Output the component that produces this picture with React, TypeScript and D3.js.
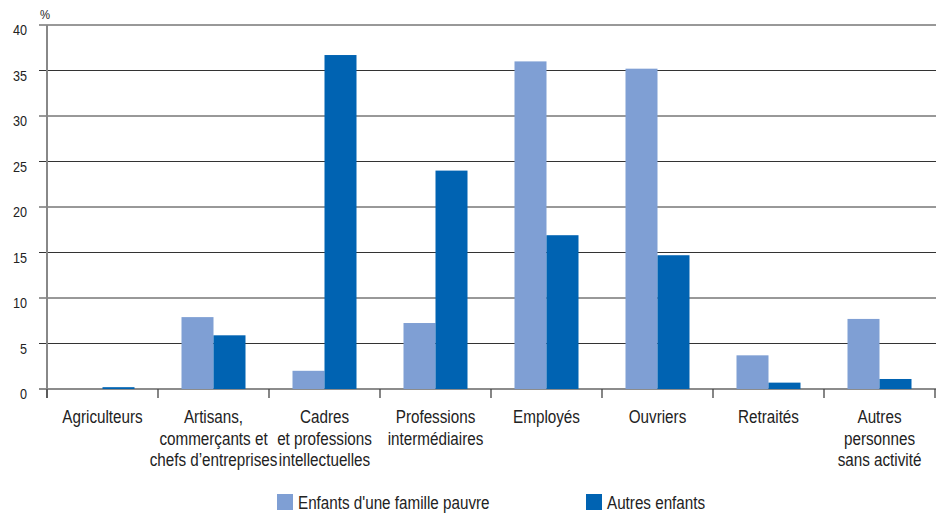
import React from "react";
import * as d3 from "d3";

const categories = [
  ["Agriculteurs"],
  ["Artisans,", "commerçants et", "chefs d\u2019entreprises"],
  ["Cadres", "et professions", "intellectuelles"],
  ["Professions", "intermédiaires"],
  ["Employés"],
  ["Ouvriers"],
  ["Retraités"],
  ["Autres", "personnes", "sans activité"],
];
const pauvres = [0, 7.9, 2.0, 7.25, 36.0, 35.2, 3.7, 7.7];
const autres = [0.2, 5.9, 36.7, 24.0, 16.9, 14.7, 0.7, 1.1];
const yTicks = [0, 5, 10, 15, 20, 25, 30, 35, 40];
const seriesNames = ["Enfants d'une famille pauvre", "Autres enfants"];
const colors = ["#7f9fd4", "#0063b2"];

const W = 941;
const H = 513;
const FONT = "'Liberation Sans', Arial, sans-serif";
const SX = 0.87;

function NText({ x, y, anchor = "start", size = 17.5, children }: any) {
  return (
    <g transform={`translate(${x},${y}) scale(${SX},1)`}>
      <text x={0} y={0} textAnchor={anchor} fontSize={size} fill="#222">{children}</text>
    </g>
  );
}

export default function App() {
  const x0 = 47, x1 = 935;
  const x = d3.scaleBand<number>().domain(d3.range(categories.length)).range([x0, x1]).paddingInner(0).paddingOuter(0);
  const y = d3.scaleLinear().domain([0, 40]).range([389, 25]);
  const bw = x.bandwidth();
  const barW = 32;
  const groupOff = (bw - 2 * barW) / 2;
  const series = [pauvres, autres];
  return (
    <svg width={W} height={H} style={{ position: "absolute", left: 0, top: 0 }} fontFamily={FONT}>
      <rect width={W} height={H} fill="#fff" />
      {yTicks.map((t) => (
        <g key={t}>
          <line x1={39} x2={x1 + 1} y1={y(t)} y2={y(t)} stroke={t === 0 ? "#666" : "#333"} strokeWidth={t === 0 ? 1.5 : 1} />
          <NText x={27} y={y(t) + 10} anchor="end" size={14.5}>{t}</NText>
        </g>
      ))}
      <NText x={40} y={19} size={13}>%</NText>
      {series.map((vals, si) =>
        vals.map((v, i) => (
          <rect key={si + "-" + i} x={(x(i) as number) + groupOff + si * barW} y={y(v)} width={barW} height={y(0) - y(v)} fill={colors[si]} />
        ))
      )}
      <line x1={x0} x2={x0} y1={25} y2={398} stroke="#888" strokeWidth={2} />
      {d3.range(categories.length + 1).map((i) => {
        const xx = i === categories.length ? x1 : (x(i) as number);
        return <line key={i} x1={xx} x2={xx} y1={389} y2={398} stroke="#444" strokeWidth={1.3} />;
      })}
      {categories.map((lines, i) =>
        lines.map((l, j) => (
          <NText key={i + "-" + j} x={(x(i) as number) + bw / 2} y={423 + j * 21.5} anchor="middle">{l}</NText>
        ))
      )}
      <rect x={277} y={494} width={16} height={16} fill={colors[0]} />
      <NText x={298} y={509}>{seriesNames[0]}</NText>
      <rect x={586} y={494} width={16} height={16} fill={colors[1]} />
      <NText x={607} y={509}>{seriesNames[1]}</NText>
    </svg>
  );
}
